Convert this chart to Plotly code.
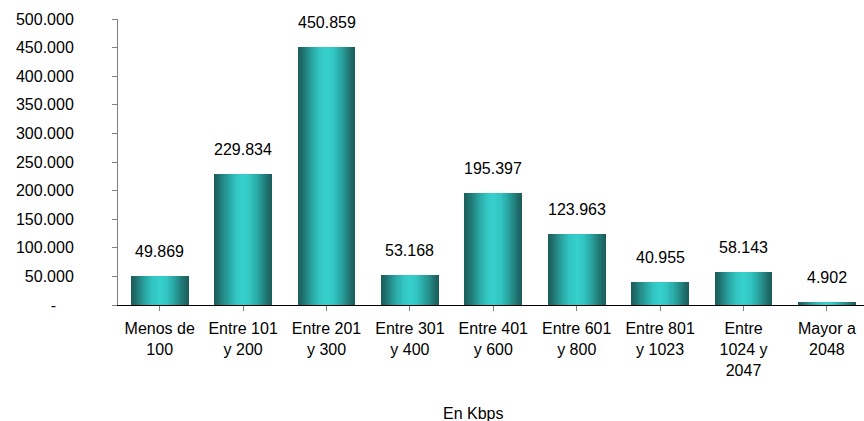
import plotly.graph_objects as go

categories = ["Menos de<br>100", "Entre 101<br>y 200", "Entre 201<br>y 300", "Entre 301<br>y 400",
              "Entre 401<br>y 600", "Entre 601<br>y 800", "Entre 801<br>y 1023",
              "Entre<br>1024 y<br>2047", "Mayor a<br>2048"]
values = [49869, 229834, 450859, 53168, 195397, 123963, 40955, 58143, 4902]
value_labels = ["49.869", "229.834", "450.859", "53.168", "195.397", "123.963", "40.955", "58.143", "4.902"]
tick_vals = [0, 50000, 100000, 150000, 200000, 250000, 300000, 350000, 400000, 450000, 500000]
tick_text = ["-\u00a0\u00a0\u00a0\u00a0", "50.000", "100.000", "150.000", "200.000", "250.000",
             "300.000", "350.000", "400.000", "450.000", "500.000"]

FONT = "Liberation Sans, Arial, sans-serif"
BAR_W = 0.695

# cylinder-like shading: colour as function of distance from bar centre (0 centre, 1 edge)
stops = [(0.0, (0x36, 0xd0, 0xcd)), (0.25, (0x33, 0xc6, 0xc3)), (0.5, (0x2a, 0xa8, 0xa5)),
         (0.7, (0x24, 0x88, 0x85)), (0.85, (0x1f, 0x6f, 0x6d)), (1.0, (0x1b, 0x5e, 0x5c))]


def colour_at(f):
    for (a, ca), (b, cb) in zip(stops[:-1], stops[1:]):
        if a <= f <= b:
            t = (f - a) / (b - a)
            c = [round(ca[i] + (cb[i] - ca[i]) * t) for i in range(3)]
            return "rgb(%d,%d,%d)" % tuple(c)
    return "rgb(%d,%d,%d)" % stops[-1][1]


fig = go.Figure()
N = 28
for k in range(N):
    f = 1 - k / N
    fig.add_trace(go.Bar(
        x=list(range(len(values))), y=values, width=BAR_W * f,
        marker=dict(color=colour_at(f), line=dict(width=0)),
        hoverinfo="skip" if k else "y", showlegend=False,
    ))

for i, (v, lab) in enumerate(zip(values, value_labels)):
    fig.add_annotation(x=i, y=v, text=lab, showarrow=False, yanchor="bottom", yshift=14,
                       font=dict(family=FONT, size=16, color="#000000"))

fig.add_annotation(x=0.476, y=-0.378, xref="paper", yref="paper", yanchor="middle",
                   text="En Kbps", showarrow=False,
                   font=dict(family=FONT, size=16, color="#000000"))

n = len(values)
fig.update_layout(
    width=864, height=421, barmode="overlay", bargap=0,
    paper_bgcolor="white", plot_bgcolor="white",
    margin=dict(l=118, r=0, t=19, b=116, autoexpand=False),
    font=dict(family=FONT, size=16, color="#000000"),
    xaxis=dict(range=[-0.5, -0.5 + 746 / 83.4], tickmode="array", tickvals=list(range(n)),
               ticktext=categories, tickson="boundaries", ticks="outside", ticklen=5,
               tickcolor="#808080", showline=True, linecolor="#000000", linewidth=1,
               showgrid=False, zeroline=False, ticklabelstandoff=4, automargin=False,
               tickfont=dict(family=FONT, size=16, color="#000000")),
    yaxis=dict(range=[0, 500000], tickmode="array", tickvals=tick_vals, ticktext=tick_text,
               ticks="outside", ticklen=5, tickcolor="#808080", showline=True,
               linecolor="#808080", linewidth=1, showgrid=False, zeroline=False,
               ticklabelstandoff=35, automargin=False,
               tickfont=dict(family=FONT, size=16, color="#000000")),
)

fig.write_html("out.html", config={"displayModeBar": False},
               post_script="document.body.style.margin='0';document.body.style.overflow='hidden';")
